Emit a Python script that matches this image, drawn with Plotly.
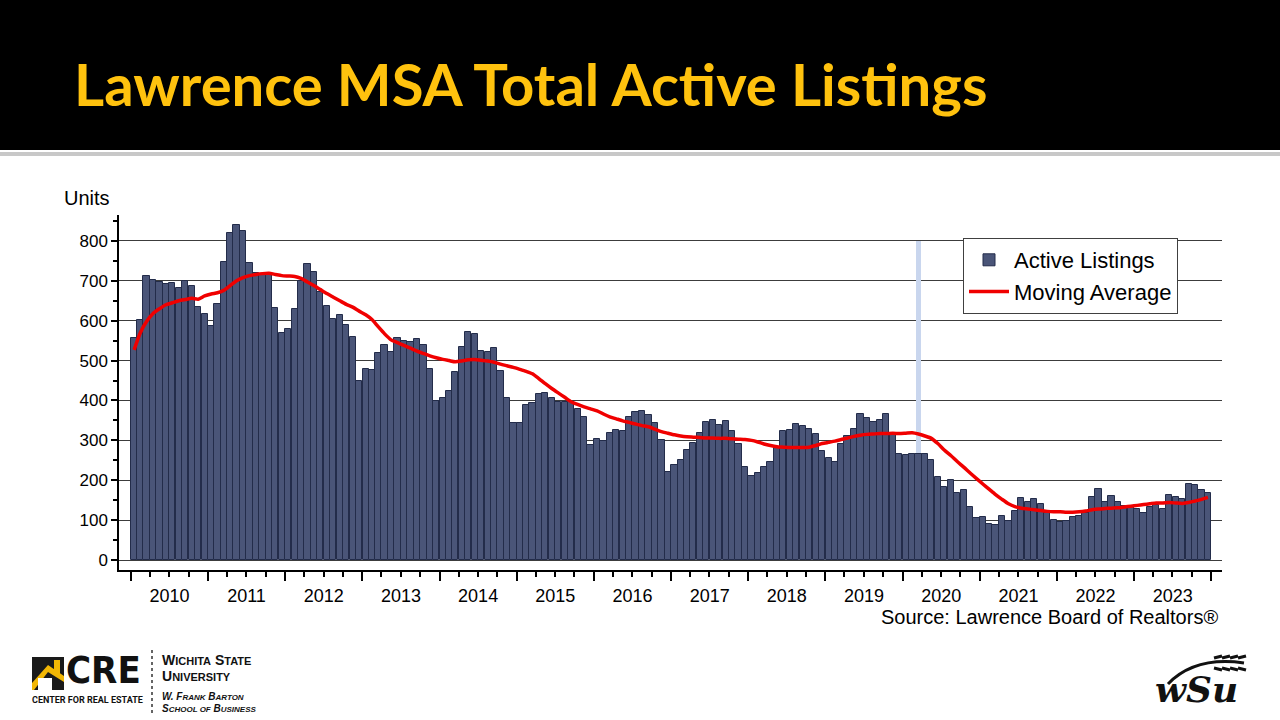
import pandas as pd
import plotly.graph_objects as go

# ---------------- data ----------------
months = pd.date_range("2010-01-01", "2023-12-01", freq="MS")

active_listings = [
    # 2010
    556, 602, 712, 702, 698, 692, 695, 682, 700, 687, 635, 616,
    # 2011
    587, 641, 747, 819, 840, 825, 744, 719, 715, 719, 633, 568,
    # 2012
    578, 629, 700, 741, 723, 673, 638, 604, 614, 589, 558, 449,
    # 2013
    479, 476, 518, 539, 521, 556, 549, 546, 553, 540, 479, 399,
    # 2014
    405, 425, 472, 535, 572, 566, 523, 521, 531, 475, 405, 344,
    # 2015
    344, 388, 393, 416, 420, 405, 397, 395, 397, 379, 358, 288,
    # 2016
    303, 299, 318, 326, 324, 359, 370, 373, 363, 344, 301, 220,
    # 2017
    238, 251, 276, 294, 318, 345, 351, 338, 348, 323, 291, 232,
    # 2018
    211, 218, 233, 245, 280, 324, 325, 340, 336, 329, 316, 274,
    # 2019
    257, 245, 290, 310, 328, 366, 355, 347, 351, 366, 313, 265,
    # 2020
    263, 265, 266, 267, 252, 207, 182, 200, 169, 176, 132, 105,
    # 2021
    108, 90, 88, 110, 98, 123, 156, 146, 152, 140, 117, 100,
    # 2022
    96, 99, 107, 110, 119, 159, 179, 146, 161, 146, 136, 135,
    # 2023
    127, 117, 134, 137, 129, 163, 157, 153, 191, 188, 176, 167,
]

moving_average = [
    # 2010
    527, 570, 598, 618, 630, 640, 645, 650, 653, 656, 654, 662,
    # 2011
    667, 670, 676, 688, 700, 708, 713, 716, 718, 719, 716, 713,
    # 2012
    712, 711, 706, 697, 688, 678, 668, 659, 650, 641, 634, 624,
    # 2013
    615, 603, 585, 567, 552, 545, 538, 531, 524, 518, 512, 507,
    # 2014
    503, 500, 497, 499, 502, 503, 501, 499, 496, 491, 487, 483,
    # 2015
    478, 473, 467, 455, 442, 430, 419, 408, 397, 390, 384, 379,
    # 2016
    374, 366, 359, 354, 349, 345, 341, 337, 334, 328, 322, 318,
    # 2017
    314, 311, 309, 308, 307, 306, 306, 305, 305, 304, 303, 302,
    # 2018
    300, 296, 291, 287, 284, 283, 282, 282, 282, 283, 287, 292,
    # 2019
    295, 298, 302, 306, 310, 313, 315, 316, 317, 317, 318, 317,
    # 2020
    318, 319, 316, 311, 305, 292, 276, 262, 247, 233, 218, 204,
    # 2021
    190, 177, 164, 152, 141, 134, 130, 128, 126, 124, 122, 121,
    # 2022
    121, 120, 120, 121, 123, 126, 128, 129, 130, 131, 133, 135,
    # 2023
    137, 139, 141, 143, 143, 144, 143, 142, 144, 148, 152, 157,
]

highlight_month = ["2020-03-01"]
highlight_value = [800]

y_ticks = [0, 100, 200, 300, 400, 500, 600, 700, 800]

# ---------------- layout helpers ----------------
L, R, T, B = 119, 1222, 215, 570
W, H = R - L, B - T


def px(x):
    return (x - L) / W


def py(y):
    return (B - y) / H


FONT = "Arial, Liberation Sans, sans-serif"

fig = go.Figure()

# highlighted month (light blue band)
fig.add_trace(go.Bar(
    x=highlight_month, y=highlight_value,
    xperiod="M1", xperiodalignment="middle",
    marker=dict(color="#c9d6ee", line=dict(width=0)),
    width=0.8 * 31 * 86400000,
    showlegend=False, hoverinfo="skip",
))

fig.add_trace(go.Bar(
    x=months, y=active_listings, name="Active Listings",
    xperiod="M1", xperiodalignment="middle",
    marker=dict(color="#4a5578", line=dict(color="#232c4a", width=1)),
))

fig.add_trace(go.Scatter(
    x=months, y=moving_average, name="Moving Average",
    xperiod="M1", xperiodalignment="middle",
    mode="lines", line=dict(color="#f00000", width=3.5, shape="spline", smoothing=0.6),
))

GOLD = "#f2b705"
shapes = [
    # black header band
    dict(type="rect", xref="paper", yref="paper", x0=px(0), x1=px(1280), y0=py(0), y1=py(150),
         fillcolor="black", line=dict(width=0), layer="above"),
    # grey rule beneath header
    dict(type="rect", xref="paper", yref="paper", x0=px(0), x1=px(1280), y0=py(152), y1=py(156),
         fillcolor="#c8c8c8", line=dict(width=0), layer="above"),
    # CRE logo: dark square with house
    dict(type="rect", xref="paper", yref="paper", x0=px(32), x1=px(64), y0=py(657), y1=py(690),
         fillcolor="#1a1a1a", line=dict(width=0), layer="above"),
    dict(type="path", xref="paper", yref="paper",
         path=f"M {px(32)},{py(683)} L {px(48)},{py(665)} L {px(64)},{py(676)} L {px(64)},{py(682)} "
              f"L {px(48)},{py(672)} L {px(34)},{py(690)} L {px(32)},{py(690)} Z",
         fillcolor=GOLD, line=dict(width=0), layer="above"),
    dict(type="rect", xref="paper", yref="paper", x0=px(38), x1=px(52), y0=py(678), y1=py(690),
         fillcolor="white", line=dict(width=0), layer="above"),
    dict(type="rect", xref="paper", yref="paper", x0=px(54), x1=px(60), y0=py(660), y1=py(674),
         fillcolor=GOLD, line=dict(width=0), layer="above"),
    # dotted divider
    dict(type="line", xref="paper", yref="paper", x0=px(152), x1=px(152), y0=py(650), y1=py(713),
         line=dict(color="#333333", width=1.5, dash="dot"), layer="above"),
    # WSU wheat stem
    dict(type="path", xref="paper", yref="paper",
         path=f"M {px(1168)},{py(684)} Q {px(1195)},{py(656)} {px(1244)},{py(663)}",
         line=dict(color="#111111", width=3), layer="above"),
]
# wheat grains
for gx in (1214, 1222, 1230, 1238):
    shapes.append(dict(type="line", xref="paper", yref="paper",
                       x0=px(gx), x1=px(gx + 8), y0=py(658), y1=py(656),
                       line=dict(color="#111111", width=3), layer="above"))
    shapes.append(dict(type="line", xref="paper", yref="paper",
                       x0=px(gx), x1=px(gx + 8), y0=py(668), y1=py(670),
                       line=dict(color="#111111", width=3), layer="above"))

annotations = [
    dict(text="<b>Lawrence MSA Total Active Listings</b>", x=px(72), y=py(83), xref="paper", yref="paper",
         xanchor="left", yanchor="middle", showarrow=False,
         font=dict(family="Lato, Open Sans, sans-serif", size=58, color="#FFC20E")),
    dict(text="Units", x=px(87), y=py(198), xref="paper", yref="paper", xanchor="center", yanchor="middle",
         showarrow=False, font=dict(family=FONT, size=20, color="black")),
    dict(text="Source: Lawrence Board of Realtors®", x=px(1220), y=py(617), xref="paper", yref="paper",
         xanchor="right", yanchor="middle", showarrow=False, font=dict(family=FONT, size=20, color="black")),
    # CRE logo text
    dict(text="<b>CRE</b>", x=px(103), y=py(670), xref="paper", yref="paper", xanchor="center", yanchor="middle",
         showarrow=False, font=dict(family="DejaVu Sans Condensed, Roboto, sans-serif", size=38, color="#111111")),
    dict(text="<b>CENTER FOR REAL ESTATE</b>", x=px(87), y=py(700), xref="paper", yref="paper",
         xanchor="center", yanchor="middle", showarrow=False,
         font=dict(family="Roboto, sans-serif", size=9, color="#111111")),
    dict(text="<b>W<span style='font-size:11px'>ICHITA</span> S<span style='font-size:11px'>TATE</span></b>",
         x=px(160), y=py(660), xref="paper", yref="paper", xanchor="left", yanchor="middle", showarrow=False,
         font=dict(family=FONT, size=14, color="#111111")),
    dict(text="<b>U<span style='font-size:11px'>NIVERSITY</span></b>",
         x=px(160), y=py(676), xref="paper", yref="paper", xanchor="left", yanchor="middle", showarrow=False,
         font=dict(family=FONT, size=14, color="#111111")),
    dict(text="<b><i>W. F<span style='font-size:8px'>RANK</span> B<span style='font-size:8px'>ARTON</span></i></b>",
         x=px(160), y=py(696), xref="paper", yref="paper", xanchor="left", yanchor="middle", showarrow=False,
         font=dict(family=FONT, size=10, color="#111111")),
    dict(text="<b><i>S<span style='font-size:8px'>CHOOL OF</span> B<span style='font-size:8px'>USINESS</span></i></b>",
         x=px(160), y=py(708), xref="paper", yref="paper", xanchor="left", yanchor="middle", showarrow=False,
         font=dict(family=FONT, size=10, color="#111111")),
    # WSU logo text
    dict(text="<b><i>wSu</i></b>", x=px(1196), y=py(689), xref="paper", yref="paper", xanchor="center",
         yanchor="middle", showarrow=False,
         font=dict(family="DejaVu Serif, serif", size=36, color="#111111")),
]

fig.update_layout(
    width=1280, height=720,
    margin=dict(l=L, r=1280 - R, t=T, b=720 - B, autoexpand=False),
    paper_bgcolor="white", plot_bgcolor="white",
    barmode="overlay", bargap=0,
    font=dict(family=FONT, color="black"),
    showlegend=True,
    legend=dict(x=px(963), y=py(238), xanchor="left", yanchor="top",
                bgcolor="white", bordercolor="#404040", borderwidth=1,
                font=dict(family=FONT, size=22, color="black"),
                itemwidth=40, tracegroupgap=0),
    shapes=shapes,
    annotations=annotations,
    xaxis=dict(
        type="date", range=["2009-11-06", "2024-02-21"],
        tick0="2010-01-01", dtick="M12", tickformat="%Y", ticklabelmode="period",
        ticks="outside", ticklen=9, tickwidth=1.5, tickcolor="black",
        minor=dict(dtick="M3", ticks="outside", ticklen=5, tickcolor="black", showgrid=False),
        showline=True, linecolor="black", linewidth=1.5,
        showgrid=False, zeroline=False,
        tickfont=dict(family=FONT, size=18, color="black"),
    ),
    yaxis=dict(
        range=[-25, 865], tickvals=y_ticks,
        ticks="outside", ticklen=6, tickwidth=1.5, tickcolor="black",
        minor=dict(dtick=50, tick0=0, ticks="outside", ticklen=4, tickcolor="black", showgrid=False),
        showline=True, linecolor="black", linewidth=1.5,
        showgrid=True, gridcolor="#3c3c3c", gridwidth=1, zeroline=False,
        tickfont=dict(family=FONT, size=17, color="black"),
    ),
)

fig.write_html("out.html")
